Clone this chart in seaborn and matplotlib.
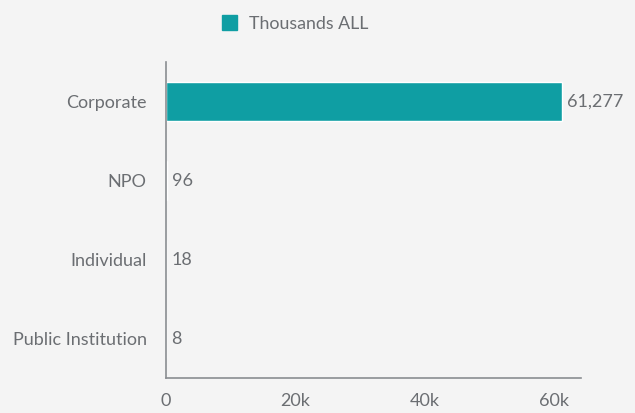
import matplotlib.pyplot as plt
import seaborn as sns
import pandas as pd
from matplotlib.patches import Patch

# data
categories = ['Corporate', 'NPO', 'Individual', 'Public Institution']
values = [61277, 96, 18, 8]
series_name = 'Thousands ALL'
tick_vals = [0, 20000, 40000, 60000]
tick_labels = ['0', '20k', '40k', '60k']

df = pd.DataFrame({'category': categories, 'value': values})

bg = '#f4f4f4'
bar_color = '#0f9ea3'
text_color = '#6b6e72'

sns.set_style('white')
plt.rcParams['font.family'] = ['Lato', 'DejaVu Sans']

fig = plt.figure(figsize=(6.35, 4.13), dpi=100)
fig.patch.set_facecolor(bg)
ax = fig.add_axes([0.2614, 0.0847, 0.6536, 0.765])
ax.set_facecolor(bg)

sns.barplot(data=df, x='value', y='category', orient='h', color=bar_color,
            saturation=1, width=0.49, ax=ax)

for i, v in enumerate(values):
    ax.text(v + 800, i, f'{v:,}', va='center', ha='left', fontsize=13, color=text_color)

ax.set_xlim(0, 64200)
ax.set_ylim(3.5, -0.5)
ax.set_xticks(tick_vals)
ax.set_xticklabels(tick_labels)
ax.tick_params(axis='both', length=0, labelsize=13, labelcolor=text_color)
ax.tick_params(axis='y', pad=14)
ax.tick_params(axis='x', pad=11)
ax.set_xlabel('')
ax.set_ylabel('')
for s in ['top', 'right']:
    ax.spines[s].set_visible(False)
for s in ['left', 'bottom']:
    ax.spines[s].set_color('#8a8d91')
    ax.spines[s].set_linewidth(1.2)

handles = [Patch(facecolor=bar_color, edgecolor=bar_color, label=series_name)]
fig.legend(handles=handles, loc='center', bbox_to_anchor=(0.465, 0.943), frameon=False,
           fontsize=12.8, labelcolor=text_color, handlelength=0.85, handleheight=0.85,
           handletextpad=0.7)

plt.savefig('out.png', dpi=100, facecolor=bg)
